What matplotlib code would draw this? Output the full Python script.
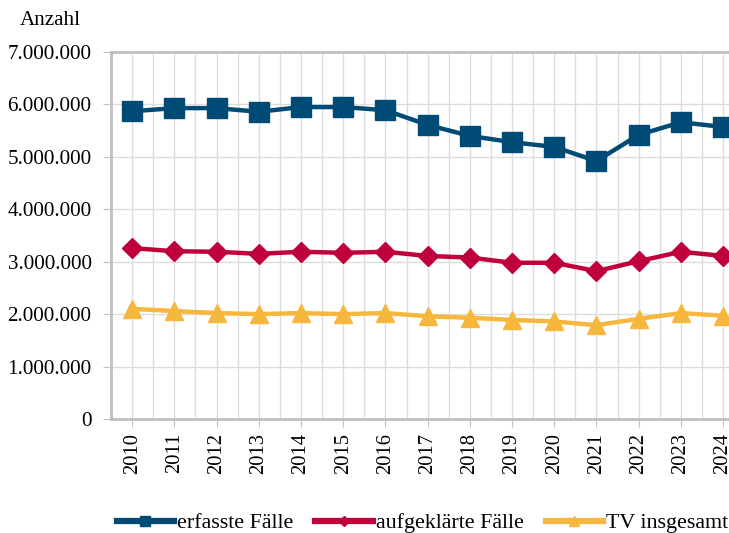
import matplotlib.pyplot as plt
from matplotlib.ticker import FuncFormatter, MultipleLocator

years = list(range(2010, 2025))
erfasst = [5.87, 5.93, 5.93, 5.86, 5.95, 5.95, 5.89, 5.61, 5.40, 5.28, 5.19, 4.92, 5.42, 5.66, 5.57]
aufgeklaert = [3.26, 3.20, 3.19, 3.15, 3.19, 3.17, 3.19, 3.11, 3.08, 2.98, 2.98, 2.82, 3.01, 3.19, 3.11]
tv_gesamt = [2.10, 2.06, 2.02, 2.00, 2.02, 2.00, 2.02, 1.96, 1.93, 1.89, 1.86, 1.79, 1.91, 2.02, 1.97]

labels = ['erfasste Fälle', 'aufgeklärte Fälle', 'TV insgesamt']
colors = ['#004b76', '#c0003b', '#f6b73c']

plt.rcParams['font.family'] = ['Liberation Serif', 'DejaVu Serif']
fs = 14.8

fig = plt.figure(figsize=(7.29, 5.33), dpi=100)
ax = fig.add_axes([0.1523, 0.2139, 0.8477, 0.6885])

mio = 1e6
ax.plot(years, [v * mio for v in erfasst], color=colors[0], lw=3.2,
        marker='s', ms=14, label=labels[0], zorder=3)
ax.plot(years, [v * mio for v in aufgeklaert], color=colors[1], lw=3.2,
        marker='D', ms=10, label=labels[1], zorder=3)
ax.plot(years, [v * mio for v in tv_gesamt], color=colors[2], lw=3.2,
        marker='^', ms=13, label=labels[2], zorder=3)

ax.set_xlim(2009.5, 2024.14)
ax.set_ylim(0, 7e6)
ax.xaxis.set_major_locator(MultipleLocator(1))
ax.xaxis.set_minor_locator(MultipleLocator(0.5))
ax.yaxis.set_major_locator(MultipleLocator(1e6))
ax.yaxis.set_major_formatter(FuncFormatter(lambda v, p: f'{int(v):,}'.replace(',', '.')))

ax.grid(True, which='both', axis='x', color='#dcdcdc', lw=1)
ax.grid(True, which='major', axis='y', color='#dcdcdc', lw=1)
ax.set_axisbelow(True)

for side in ['left', 'bottom', 'top']:
    ax.spines[side].set_color('#c0c0c0')
    ax.spines[side].set_linewidth(2)
ax.spines['right'].set_visible(False)

ax.tick_params(axis='y', which='both', length=6, color='#c0c0c0', labelsize=15.2, pad=8)
ax.tick_params(axis='x', which='major', length=6, color='#c0c0c0', labelsize=fs,
               labelrotation=90, pad=4)
ax.tick_params(axis='x', which='minor', length=0)

fig.text(0.027, 0.962, 'Anzahl', fontsize=15.2, ha='left', va='center')

leg = ax.legend(loc='center', bbox_to_anchor=(0.504, -0.284), ncol=3, frameon=False,
                fontsize=15.8, markerscale=0.55, handlelength=2.6, handletextpad=0.15,
                columnspacing=1.0, borderaxespad=0, borderpad=0)
for line in leg.get_lines():
    line.set_linewidth(4.5)

fig.savefig('out.png', dpi=100)
